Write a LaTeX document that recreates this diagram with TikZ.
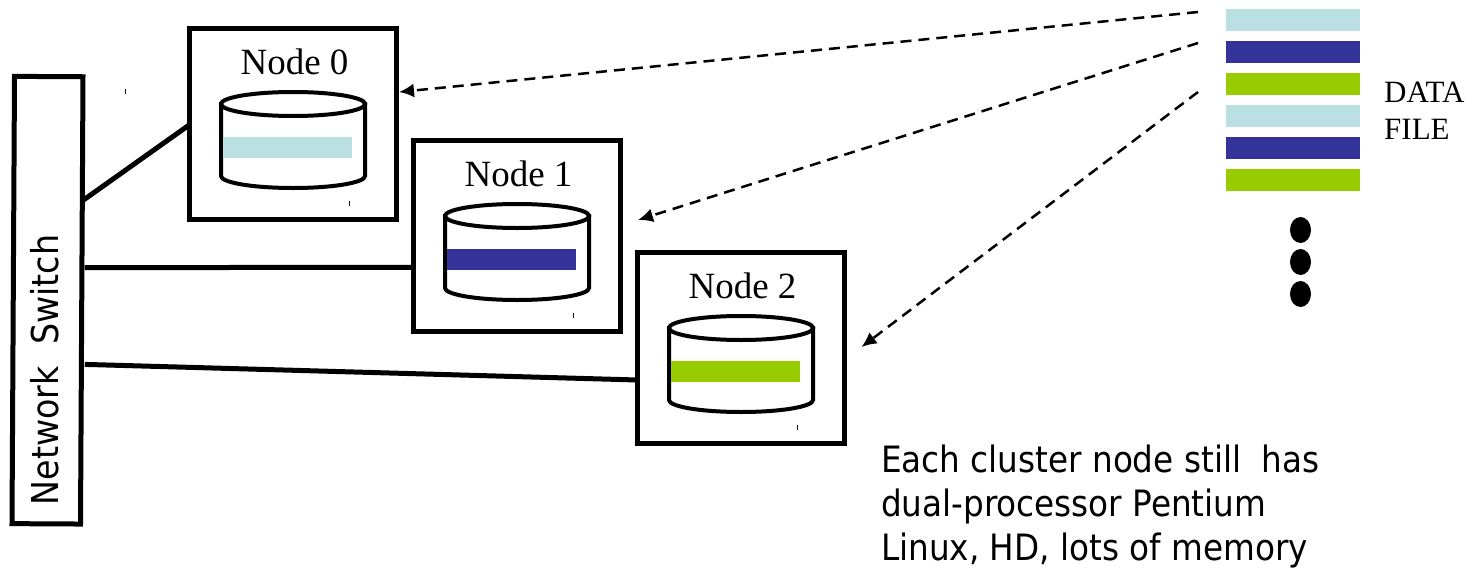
\documentclass[tikz,border=0pt]{standalone}
\usepackage{fontspec}
\setmainfont{Liberation Serif}
\newfontfamily\bodyfont{DejaVu Sans Condensed}
\usetikzlibrary{arrows.meta,shapes.geometric}
\definecolor{lightstripe}{HTML}{BBE0E3}
\definecolor{darkstripe}{HTML}{333399}
\definecolor{greenstripe}{HTML}{99CC00}
\tikzset{
  box/.style={draw=black,line width=5pt,fill=white,minimum width=207pt,minimum height=191.5pt,inner sep=0pt,outer sep=0pt},
  switchbox/.style={draw=black,line width=5pt,fill=white,minimum width=68.5pt,minimum height=447.3pt,inner sep=0pt,outer sep=0pt,rotate=-0.32},
  title/.style={font=\fontsize{37}{37}\selectfont,inner sep=0pt},
  link/.style={line width=5pt},
  feed/.style={line width=2.5pt,dash pattern=on 11pt off 7pt,-{Latex[length=15pt,width=14pt]}},
  disk/.style={line width=4pt,draw=black},
  stripe/.style={minimum width=134pt,minimum height=22pt,inner sep=0pt,outer sep=0pt},
  tick/.style={line width=0.7pt},
  dot/.style={ellipse,fill=black,minimum width=21pt,minimum height=26pt,inner sep=0pt},
  label/.style={font=\fontsize{31}{37}\selectfont,align=left,inner sep=0pt,anchor=west},
  bodytext/.style={font=\bodyfont\fontsize{36.3}{44.3}\selectfont,align=left,inner sep=0pt,anchor=north west}
}
\begin{document}
\begin{tikzpicture}[x=1pt,y=-1pt]
\useasboundingbox (0,0) rectangle (1478,570);
% switch
\node[switchbox] (sw) at (47.5,300.2) {};
\node[rotate=90,font=\bodyfont\fontsize{37}{37}\selectfont,inner sep=0pt] (swt) at (45,370) {Network\ \ Switch};
% cluster nodes
\foreach \i/\dx/\dy/\col in {0/0/0/lightstripe,1/224/112/darkstripe,2/448/224/greenstripe}{
  \node[box] (n\i) at (293+\dx,123.75+\dy) {};
  \node[title] (t\i) at (294.5+\dx,62+\dy) {Node \i};
  \path[disk,fill=white] (221+\dx,104+\dy) -- (221+\dx,176+\dy)
    arc[start angle=180,end angle=0,x radius=72,y radius=12]
    -- (365+\dx,104+\dy) -- cycle;
  \node[inner sep=0pt,minimum width=130pt,minimum height=21pt,fill=\col] (b\i) at (287+\dx,147.5+\dy) {};
  \draw[disk] (221+\dx,104+\dy) -- (221+\dx,176+\dy);
  \draw[disk,fill=white] (293+\dx,104+\dy) ellipse[x radius=72,y radius=12];
  \draw[tick] (349+\dx,201+\dy) -- (349+\dx,206+\dy);
}
\draw[tick] (125,89) -- (125,94);
% links
\draw[link] ([xshift=1.5pt,yshift=100.2pt]sw.east) -- ([yshift=-1pt]n0.west);
\draw[link] ([xshift=3pt,yshift=32.7pt]sw.east) -- ([yshift=-31.5pt]n1.west);
\draw[link] ([xshift=3pt,yshift=-64pt]sw.east) -- ([yshift=-32.25pt]n2.west);
% stripes
\foreach \s/\y/\col in {0/20/lightstripe,1/52/darkstripe,2/84/greenstripe,3/116/lightstripe,4/148/darkstripe,5/180/greenstripe}{
  \node[stripe,fill=\col] (s\s) at (1293,\y) {};
}
\node[dot] (d0) at (1300.5,230) {};
\node[dot] (d1) at (1300.5,262) {};
\node[dot] (d2) at (1300.5,294) {};
\node[label] (df) at (1384,110.5) {DATA\\FILE};
% data feeds
\coordinate (f0) at (1198,12);
\coordinate (f1) at (1198,43);
\coordinate (f2) at (1198,92);
\draw[feed] (f0) -- ([xshift=2.5pt,yshift=31.75pt]n0.east);
\draw[feed] (f1) -- ([xshift=17.5pt,yshift=15.75pt]n1.east);
\draw[feed] (f2) -- ([xshift=17pt,yshift=0.75pt]n2.east);
% caption
\node[bodytext] (cap) at (881,444.5) {Each cluster node still\ \ has\\dual-processor Pentium\\Linux, HD, lots of memory};
\end{tikzpicture}
\end{document}
